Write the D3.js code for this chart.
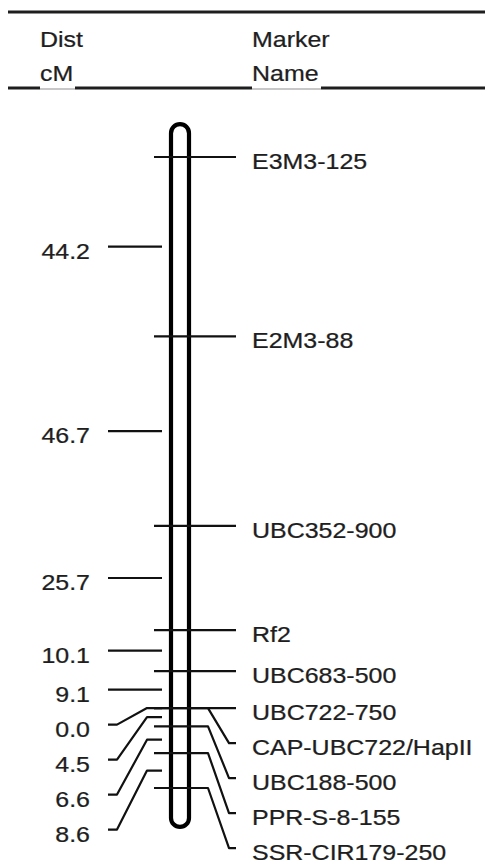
<!DOCTYPE html>
<html><head><meta charset="utf-8">
<script src="https://cdn.jsdelivr.net/npm/d3@7"></script>
<style>body{margin:0;background:#fff}</style>
</head><body>
<svg id="c" width="487" height="867"></svg>
<script>
const markerNames = ["E3M3-125","E2M3-88","UBC352-900","Rf2","UBC683-500","UBC722-750","CAP-UBC722/HapII","UBC188-500","PPR-S-8-155","SSR-CIR179-250"];
const intervalCM = [44.2,46.7,25.7,10.1,9.1,0.0,4.5,6.6,8.6];
const headerLeft = ["Dist","cM"];
const headerRight = ["Marker","Name"];
const chromExtentCM = [-8.1, 165.1];

(function(){
const svg = d3.select("#c");
const FONT = "'Liberation Sans', Arial, Helvetica, sans-serif";
const SX = 1.11;
const INK = "#1e1e1e";

// cumulative marker positions
const pos = [0];
intervalCM.forEach(d => pos.push(pos[pos.length-1] + d));
const y = d3.scaleLinear().domain([0, pos[pos.length-1]]).range([157, 788]);
const cx = 180;

function spread(vals, gap) {
  const out = [];
  vals.forEach((v,i) => out.push(i ? Math.max(v, out[i-1] + gap) : v));
  return out;
}
function txt(x, yy, s, anchor) {
  svg.append("text")
    .attr("transform", `translate(${x},${yy}) scale(${SX},1)`)
    .attr("text-anchor", anchor || "start")
    .attr("font-family", FONT).attr("font-size", 22.5)
    .attr("fill", INK).attr("stroke", INK).attr("stroke-width", 0.25)
    .text(s);
}

// header rules
svg.append("line").attr("x1", 8).attr("x2", 485).attr("y1", 12).attr("y2", 12)
  .attr("stroke", INK).attr("stroke-width", 3);
[[8,40],[75,252],[321,485]].forEach(([a,b]) => {
  svg.append("line").attr("x1", a).attr("x2", b).attr("y1", 88).attr("y2", 88)
    .attr("stroke", INK).attr("stroke-width", 3);
});
[[40,75],[252,321]].forEach(([a,b]) => {
  svg.append("line").attr("x1", a).attr("x2", b).attr("y1", 89).attr("y2", 89)
    .attr("stroke", "#b5b5b5").attr("stroke-width", 1.5);
});
txt(40, 47, headerLeft[0]); txt(40, 81, headerLeft[1]);
txt(252, 47, headerRight[0]); txt(252, 81, headerRight[1]);

// chromosome
const cTop = y(chromExtentCM[0]), cBot = y(chromExtentCM[1]);
svg.append("rect").attr("x", cx - 9).attr("width", 18)
  .attr("y", cTop).attr("height", cBot - cTop).attr("rx", 9).attr("ry", 9)
  .attr("fill", "#fff").attr("stroke", "#000").attr("stroke-width", 4.2);

// right: marker lines & labels
const my = pos.map(y);
const ry = spread(my, 35);
const g = svg.append("g").attr("fill", "none").attr("stroke", "#111")
  .attr("stroke-width", 2.2).attr("stroke-linejoin", "round");
my.forEach((m,i) => {
  const l = ry[i];
  const d = Math.abs(l - m) < 0.5 ? `M154,${m}H236` : `M154,${m}H208L229,${l}H236`;
  g.append("path").attr("d", d);
  txt(252, l + 12, markerNames[i]);
});

// left: interval distances
const mids = intervalCM.map((d,i) => (my[i] + my[i+1]) / 2);
const ly = spread(mids, 35);
mids.forEach((t,i) => {
  const l = ly[i];
  const d = Math.abs(l - t) < 0.5 ? `M108,${t}H162` : `M108,${l}H117L147,${t}H162`;
  g.append("path").attr("d", d);
  txt(90, l + 12, intervalCM[i].toFixed(1), "end");
});
})();
</script>
</body></html>
